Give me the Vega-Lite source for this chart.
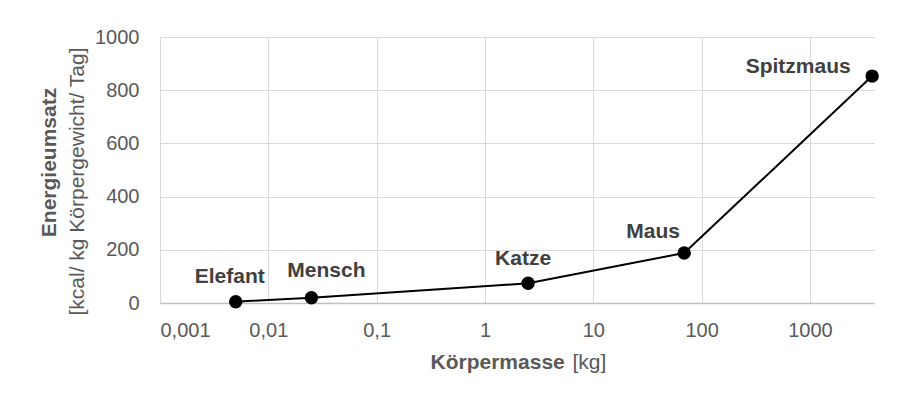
{
  "$schema": "https://vega.github.io/schema/vega-lite/v6.json",
  "width": 714,
  "height": 266,
  "autosize": {"type": "none"},
  "padding": {"left": 160, "top": 37, "right": 48, "bottom": 102},
  "background": "white",
  "config": {
    "view": {"stroke": null},
    "font": "Liberation Sans",
    "axis": {
      "labelFont": "Liberation Sans",
      "titleFont": "Liberation Sans",
      "labelColor": "#595959",
      "titleColor": "#595959",
      "labelFontSize": 20,
      "titleFontSize": 21,
      "gridColor": "#d9d9d9",
      "gridWidth": 1,
      "ticks": false,
      "tickSize": 0
    }
  },
  "data": {
    "values": [
      {"tier": "Elefant", "masse": 0.005, "energie": 5},
      {"tier": "Mensch", "masse": 0.025, "energie": 20},
      {"tier": "Katze", "masse": 2.5, "energie": 74},
      {"tier": "Maus", "masse": 69, "energie": 188},
      {"tier": "Spitzmaus", "masse": 3750, "energie": 853}
    ]
  },
  "encoding": {
    "x": {"field": "masse", "type": "quantitative", "scale": {"type": "log", "domain": [0.001, 3900], "nice": false}},
    "y": {"field": "energie", "type": "quantitative", "scale": {"domain": [0, 1000], "nice": false}}
  },
  "resolve": {"axis": {"x": "independent", "y": "independent"}},
  "layer": [
    {
      "mark": {"type": "line", "color": "black", "strokeWidth": 2},
      "encoding": {
        "x": {"field": "masse", "type": "quantitative",
          "axis": {"orient": "bottom", "values": [0.001, 0.01, 0.1, 1, 10, 100, 1000],
            "labelExpr": "replace(toString(datum.value), '.', ',')",
            "grid": true, "domain": true, "domainColor": "#bfbfbf", "domainWidth": 1.3,
            "labelPadding": 17,
            "title": "Körpermasse", "titleFontWeight": "bold",
            "titleX": 270, "titleY": 59, "titleAlign": "left", "titleBaseline": "middle"}},
        "y": {"field": "energie", "type": "quantitative",
          "axis": {"orient": "left", "values": [0, 200, 400, 600, 800, 1000], "format": "d",
            "grid": true, "domain": false, "labelPadding": 21,
            "title": "Energieumsatz", "titleFontWeight": "bold",
            "titleX": -111, "titleY": 125, "titleAngle": -90, "titleAlign": "center", "titleBaseline": "middle"}}
      }
    },
    {
      "mark": {"type": "circle", "color": "black", "opacity": 1, "size": 180},
      "encoding": {
        "x": {"field": "masse", "type": "quantitative",
          "axis": {"orient": "bottom", "labels": false, "grid": false, "domain": false, "ticks": false,
            "title": "[kg]", "titleFontWeight": "normal",
            "titleX": 412, "titleY": 59, "titleAlign": "left", "titleBaseline": "middle"}},
        "y": {"field": "energie", "type": "quantitative",
          "axis": {"orient": "left", "labels": false, "grid": false, "domain": false, "ticks": false,
            "title": "[kcal/ kg Körpergewicht/ Tag]", "titleFontWeight": "normal",
            "titleX": -83, "titleY": 144, "titleAngle": -90, "titleAlign": "center", "titleBaseline": "middle"}}
      }
    },
    {
      "transform": [{"filter": "datum.tier == 'Elefant'"}],
      "mark": {"type": "text", "font": "Liberation Sans", "fontWeight": "bold", "fontSize": 21, "color": "#404040", "align": "center", "baseline": "alphabetic", "dx": -6, "dy": -19},
      "encoding": {
        "x": {"field": "masse", "type": "quantitative", "axis": null},
        "y": {"field": "energie", "type": "quantitative", "axis": null},
        "text": {"field": "tier"}
      }
    },
    {
      "transform": [{"filter": "datum.tier == 'Mensch'"}],
      "mark": {"type": "text", "font": "Liberation Sans", "fontWeight": "bold", "fontSize": 21, "color": "#404040", "align": "center", "baseline": "alphabetic", "dx": 15, "dy": -21},
      "encoding": {
        "x": {"field": "masse", "type": "quantitative", "axis": null},
        "y": {"field": "energie", "type": "quantitative", "axis": null},
        "text": {"field": "tier"}
      }
    },
    {
      "transform": [{"filter": "datum.tier == 'Katze'"}],
      "mark": {"type": "text", "font": "Liberation Sans", "fontWeight": "bold", "fontSize": 21, "color": "#404040", "align": "center", "baseline": "alphabetic", "dx": -5, "dy": -18},
      "encoding": {
        "x": {"field": "masse", "type": "quantitative", "axis": null},
        "y": {"field": "energie", "type": "quantitative", "axis": null},
        "text": {"field": "tier"}
      }
    },
    {
      "transform": [{"filter": "datum.tier == 'Maus'"}],
      "mark": {"type": "text", "font": "Liberation Sans", "fontWeight": "bold", "fontSize": 21, "color": "#404040", "align": "center", "baseline": "alphabetic", "dx": -31, "dy": -15},
      "encoding": {
        "x": {"field": "masse", "type": "quantitative", "axis": null},
        "y": {"field": "energie", "type": "quantitative", "axis": null},
        "text": {"field": "tier"}
      }
    },
    {
      "transform": [{"filter": "datum.tier == 'Spitzmaus'"}],
      "mark": {"type": "text", "font": "Liberation Sans", "fontWeight": "bold", "fontSize": 21, "color": "#404040", "align": "center", "baseline": "alphabetic", "dx": -74, "dy": -3},
      "encoding": {
        "x": {"field": "masse", "type": "quantitative", "axis": null},
        "y": {"field": "energie", "type": "quantitative", "axis": null},
        "text": {"field": "tier"}
      }
    }
  ]
}
